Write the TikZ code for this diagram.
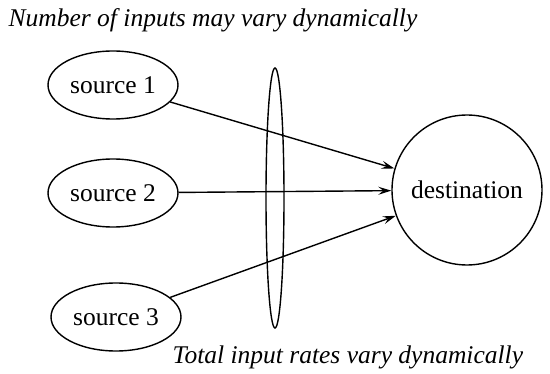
\documentclass[tikz,border=0pt]{standalone}
\usepackage{fontspec}
\setmainfont{Liberation Serif}
\usetikzlibrary{arrows.meta,shapes.geometric}
\begin{document}
\begin{tikzpicture}[x=1pt,y=1pt,
  line width=1.4pt,
  src/.style={draw, ellipse, minimum width=130pt, minimum height=68pt, inner sep=0pt, font=\fontsize{25.5}{30}\selectfont},
  dst/.style={draw, circle, minimum size=150pt, inner sep=0pt, font=\fontsize{25.5}{30}\selectfont},
  lens/.style={draw, ellipse, minimum width=18pt, minimum height=260pt, inner sep=0pt},
  captext/.style={font=\fontsize{25.5}{30}\selectfont\itshape, inner sep=0pt, anchor=base west},
  arr/.style={-{Stealth[length=13pt,width=8pt,inset=5pt]}}]
\useasboundingbox (0,0) rectangle (550,373);
\node[captext] (top) at (8,346) {Number of inputs may vary dynamically};
\node[captext] (bot) at (172,10) {Total input rates vary dynamically};
\node[src] (s1) at (113,288) {source 1};
\node[src] (s2) at (113,180) {source 2};
\node[src] (s3) at (116,56) {source 3};
\node[dst] (d) at (467,183) {destination};
\node[lens] (l) at (275,175) {};
\draw[arr] (s1) -- (d);
\draw[arr] (s2) -- (d);
\draw[arr] (s3) -- (d);
\end{tikzpicture}
\end{document}
